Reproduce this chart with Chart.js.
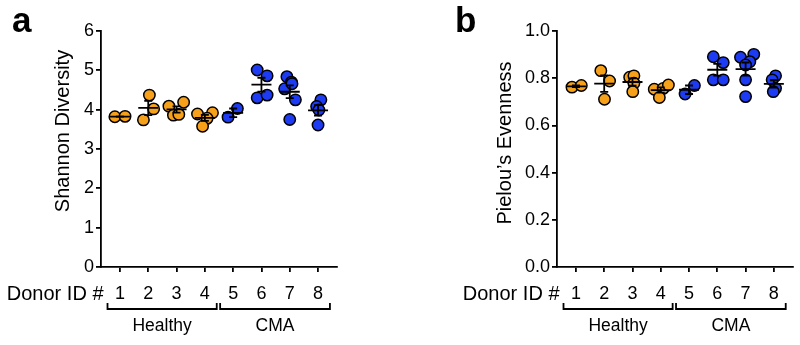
<!DOCTYPE html>
<html>
<head>
<meta charset="utf-8">
<script src="https://cdn.jsdelivr.net/npm/chart.js@4.4.0/dist/chart.umd.min.js"></script>
<style>
  html, body { margin: 0; padding: 0; background: #fff; }
  .row { display: flex; width: 800px; height: 345px; }
  .panel { position: relative; width: 400px; height: 345px; }
</style>
</head>
<body>
<div class="row">
  <div class="panel"><canvas id="chart-shannon"></canvas></div>
  <div class="panel"><canvas id="chart-pielou"></canvas></div>
</div>
<script>
// donors / groups
const donors = [1, 2, 3, 4, 5, 6, 7, 8];
const healthyDonors = [1, 2, 3, 4];
const cmaDonors = [5, 6, 7, 8];
const groupLabels = ['Healthy', 'CMA'];
const groupSpans = [[0.56, 4.42], [4.54, 8.42]];

// shannon diversity, one list per donor
const shannon = [
  [3.82, 3.83],
  [4.37, 4.02, 3.74],
  [4.09, 4.19, 3.86, 3.88],
  [3.89, 3.92, 3.78, 3.58],
  [3.81, 4.03],
  [5.01, 4.86, 4.30, 4.37],
  [4.84, 4.70, 4.53, 4.25, 3.75, 4.66],
  [4.25, 4.08, 3.99, 3.61]
];
// horizontal spread of each dot around its donor
const shannonJitter = [
  [-0.18, 0.18],
  [0.04, 0.19, -0.17],
  [-0.27, 0.25, -0.11, 0.08],
  [-0.26, 0.27, 0.08, -0.08],
  [-0.18, 0.15],
  [-0.15, 0.2, -0.15, 0.2],
  [-0.1, 0.06, -0.18, 0.2, 0, 0.08],
  [0.1, -0.05, 0.03, 0]
];

// pielou's evenness
const pielou = [
  [0.762, 0.769],
  [0.832, 0.788, 0.711],
  [0.804, 0.810, 0.779, 0.743],
  [0.753, 0.757, 0.771, 0.718],
  [0.733, 0.769],
  [0.891, 0.866, 0.793, 0.793],
  [0.889, 0.901, 0.870, 0.856, 0.793, 0.722],
  [0.810, 0.793, 0.757, 0.743]
];
const pielouJitter = [
  [-0.14, 0.19],
  [-0.12, 0.19, 0.01],
  [-0.1, 0.05, 0.05, 0.01],
  [-0.23, 0.09, 0.27, -0.05],
  [-0.14, 0.19],
  [-0.14, 0.21, -0.14, 0.21],
  [-0.18, 0.29, 0.15, 0, 0, 0],
  [0.06, -0.06, 0.06, -0.02]
];

const shannonTicks = [0, 1, 2, 3, 4, 5, 6];
const pielouTicks = [0, 0.2, 0.4, 0.6, 0.8, 1.0];

const FONT = '"Liberation Sans", Arial, Helvetica, sans-serif';
const ORANGE = '#F7A11B';
const BLUE = '#1D3BF2';

function pointsFor(ids, values, jitter) {
    return ids.flatMap(id => values[id - 1].map((v, i) => ({ x: id + jitter[id - 1][i], y: v })));
}

// letter, y title, donor label, brackets, mean +/- sem
const extrasPlugin = {
    id: 'extras',
    afterDatasetsDraw(chart, args, opts) {
        const ctx = chart.ctx;
        const xs = chart.scales.x;
        const ys = chart.scales.y;
        const area = chart.chartArea;
        ctx.save();

        // mean and sem
        ctx.strokeStyle = '#000';
        ctx.lineWidth = 1.8;
        opts.values.forEach((vals, i) => {
            const n = vals.length;
            const mean = vals.reduce((a, b) => a + b, 0) / n;
            const sd = Math.sqrt(vals.reduce((a, b) => a + (b - mean) * (b - mean), 0) / (n - 1));
            const sem = sd / Math.sqrt(n);
            const px = xs.getPixelForValue(donors[i]);
            const pm = ys.getPixelForValue(mean);
            const p1 = ys.getPixelForValue(mean + sem);
            const p2 = ys.getPixelForValue(mean - sem);
            ctx.beginPath();
            ctx.moveTo(px - 10, pm); ctx.lineTo(px + 10, pm);
            ctx.moveTo(px, p1); ctx.lineTo(px, p2);
            ctx.moveTo(px - 4, p1); ctx.lineTo(px + 4, p1);
            ctx.moveTo(px - 4, p2); ctx.lineTo(px + 4, p2);
            ctx.stroke();
        });

        ctx.fillStyle = '#000';

        // panel letter
        ctx.font = 'bold 35px ' + FONT;
        ctx.textAlign = 'left';
        ctx.textBaseline = 'alphabetic';
        ctx.fillText(opts.letter, opts.letterX, 32);

        // y title
        ctx.save();
        ctx.translate(opts.titleX, opts.titleY);
        ctx.rotate(-Math.PI / 2);
        ctx.font = '20px ' + FONT;
        ctx.textAlign = 'center';
        ctx.textBaseline = 'middle';
        ctx.fillText(opts.yTitle, 0, 0);
        ctx.restore();

        // donor label
        ctx.font = '20px ' + FONT;
        ctx.textAlign = 'right';
        ctx.textBaseline = 'alphabetic';
        ctx.fillText('Donor ID #', area.left + 2.5, 300);

        // brackets
        ctx.lineWidth = 1.8;
        ctx.font = '17.5px ' + FONT;
        ctx.textAlign = 'center';
        groupSpans.forEach((span, i) => {
            const a = xs.getPixelForValue(span[0]);
            const b = xs.getPixelForValue(span[1]);
            ctx.beginPath();
            ctx.moveTo(a, 303); ctx.lineTo(a, 309); ctx.lineTo(b, 309); ctx.lineTo(b, 303);
            ctx.stroke();
            ctx.fillText(groupLabels[i], (a + b) / 2, 331);
        });
        ctx.restore();
    }
};

function makeChart(canvasId, values, jitter, yTicks, yMax, decimals, yAxisWidth, rightPad, extras) {
    const ctx = document.getElementById(canvasId).getContext('2d');
    return new Chart(ctx, {
        type: 'scatter',
        data: {
            datasets: [{
                label: 'Healthy',
                data: pointsFor(healthyDonors, values, jitter),
                backgroundColor: ORANGE,
                borderColor: '#000',
                borderWidth: 1.5,
                pointRadius: 5.7
            }, {
                label: 'CMA',
                data: pointsFor(cmaDonors, values, jitter),
                backgroundColor: BLUE,
                borderColor: '#000',
                borderWidth: 1.5,
                pointRadius: 5.7
            }]
        },
        options: {
            responsive: true,
            maintainAspectRatio: false,
            animation: false,
            layout: { padding: { left: 0, right: rightPad, top: 31, bottom: 0 } },
            plugins: {
                legend: { display: false },
                tooltip: { enabled: false },
                extras: Object.assign({ values: values }, extras)
            },
            scales: {
                x: {
                    type: 'linear',
                    min: 0.33,
                    max: 8.67,
                    afterBuildTicks: s => { s.ticks = donors.map(v => ({ value: v })); },
                    afterFit: s => { s.height = 78; },
                    grid: { drawOnChartArea: false, drawTicks: true, tickLength: 5, color: '#000', lineWidth: 1.8 },
                    border: { color: '#000', width: 1.8 },
                    ticks: { color: '#000', font: { family: FONT, size: 18 }, padding: 11, maxRotation: 0 }
                },
                y: {
                    min: 0,
                    max: yMax,
                    afterBuildTicks: s => { s.ticks = yTicks.map(v => ({ value: v })); },
                    afterFit: s => { s.width = yAxisWidth; },
                    grid: { drawOnChartArea: false, drawTicks: true, tickLength: 5, color: '#000', lineWidth: 1.8 },
                    border: { color: '#000', width: 1.8 },
                    ticks: {
                        color: '#000',
                        font: { family: FONT, size: 18 },
                        padding: 2,
                        callback: v => v.toFixed(decimals)
                    }
                }
            }
        },
        plugins: [extrasPlugin]
    });
}

//shannon
makeChart('chart-shannon', shannon, shannonJitter, shannonTicks, 6, 0, 101, 63,
    { letter: 'a', letterX: 12, yTitle: 'Shannon Diversity', titleX: 63.5, titleY: 131 });

//pielou
makeChart('chart-pielou', pielou, pielouJitter, pielouTicks, 1, 1, 157, 7,
    { letter: 'b', letterX: 55, yTitle: 'Pielou\u2019s Evenness', titleX: 105, titleY: 143 });
</script>
</body>
</html>
